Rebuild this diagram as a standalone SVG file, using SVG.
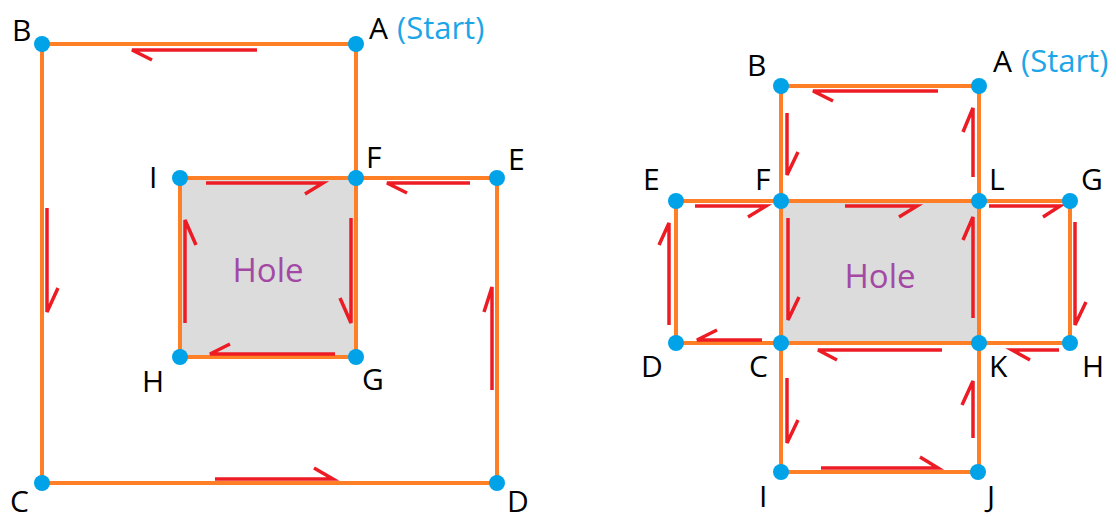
<svg xmlns="http://www.w3.org/2000/svg" width="1116" height="520" viewBox="0 0 1116 520">
  <style>
    .hole { fill: #dcdcdc; stroke: none; }
    .edge { stroke: #ff7f27; stroke-width: 4; fill: none; stroke-linecap: round; }
    .dir { stroke: #ed1c24; stroke-width: 3.5; fill: none; stroke-linejoin: miter; }
    .dot { fill: #00a2e8; }
    .lbl { font-family: "Open Sans", "Noto Sans", sans-serif; font-size: 30px; fill: #000; }
    .start { font-family: "Open Sans", "Noto Sans", sans-serif; font-size: 31px; fill: #1ba6e8; }
    .holetxt { font-family: "Open Sans", "Noto Sans", sans-serif; font-size: 33px; fill: #a349a4; text-anchor: middle; }
  </style>

  <!-- hole regions -->
  <g id="holes">
    <rect class="hole" x="180" y="178" width="176" height="179"/>
    <text class="holetxt" x="268" y="282">Hole</text>
    <rect class="hole" x="781" y="201" width="198" height="142"/>
    <text class="holetxt" x="880" y="288">Hole</text>
  </g>

  <g id="connectors">
    <!-- left figure: outer boundary and hole boundary -->
    <path class="edge" d="M356 44 H42 V483 H497 V178 H356 V44"/>
    <path class="edge" d="M356 178 V357 H180 V178 H356"/>
    <!-- right figure: cross-shaped boundary around the hole -->
    <path class="edge" d="M979 86 H781 V472 H979 V86"/>
    <path class="edge" d="M676 201 H1070 V343 H676 Z"/>

    <!-- traversal direction, left figure -->
    <path class="dir" d="M257 50 H132 L152 60"/>
    <path class="dir" d="M47 208 V312 L58 288"/>
    <path class="dir" d="M215 479 H333 L314 468"/>
    <path class="dir" d="M492 390 V287 L484 312"/>
    <path class="dir" d="M470 183 H387 L407 193"/>
    <path class="dir" d="M351 218 V323 L340 298"/>
    <path class="dir" d="M335 354 H210 L230 344"/>
    <path class="dir" d="M185 323 V220 L196 245"/>
    <path class="dir" d="M206 183 H323 L305 194"/>

    <!-- traversal direction, right figure -->
    <path class="dir" d="M938 91 H813 L833 101"/>
    <path class="dir" d="M787 113 V175 L798 152"/>
    <path class="dir" d="M695 206 H766 L748 217"/>
    <path class="dir" d="M845 206 H917 L899 217"/>
    <path class="dir" d="M989 206 H1060 L1043 217"/>
    <path class="dir" d="M973 177 V108 L963 132"/>
    <path class="dir" d="M669 325 V223 L659 245"/>
    <path class="dir" d="M762 340 H697 L717 330"/>
    <path class="dir" d="M788 218 V320 L799 297"/>
    <path class="dir" d="M973 318 V217 L963 240"/>
    <path class="dir" d="M1075 222 V325 L1086 302"/>
    <path class="dir" d="M942 350 H818 L837 360"/>
    <path class="dir" d="M1059 350 H1012 L1030 360"/>
    <path class="dir" d="M787 378 V443 L798 420"/>
    <path class="dir" d="M821 468 H938 L920 457"/>
    <path class="dir" d="M973 438 V381 L962 405"/>
  </g>

  <!-- left figure nodes -->
  <g id="L-A"><circle class="dot" cx="356" cy="44" r="8"/><text class="lbl" x="369" y="39">A</text><text class="start" x="397" y="39">(Start)</text></g>
  <g id="L-B"><circle class="dot" cx="42" cy="44" r="8"/><text class="lbl" x="12" y="41">B</text></g>
  <g id="L-C"><circle class="dot" cx="42" cy="483" r="8"/><text class="lbl" x="10" y="512">C</text></g>
  <g id="L-D"><circle class="dot" cx="497" cy="483" r="8"/><text class="lbl" x="507" y="512">D</text></g>
  <g id="L-E"><circle class="dot" cx="497" cy="178" r="8"/><text class="lbl" x="508" y="170">E</text></g>
  <g id="L-F"><circle class="dot" cx="356" cy="178" r="8"/><text class="lbl" x="366" y="168">F</text></g>
  <g id="L-G"><circle class="dot" cx="356" cy="357" r="8"/><text class="lbl" x="362" y="390">G</text></g>
  <g id="L-H"><circle class="dot" cx="180" cy="357" r="8"/><text class="lbl" x="142" y="392">H</text></g>
  <g id="L-I"><circle class="dot" cx="180" cy="178" r="8"/><text class="lbl" x="149" y="188">I</text></g>

  <!-- right figure nodes -->
  <g id="R-A"><circle class="dot" cx="979" cy="86" r="8"/><text class="lbl" x="993" y="72">A</text><text class="start" x="1021" y="72">(Start)</text></g>
  <g id="R-B"><circle class="dot" cx="781" cy="86" r="8"/><text class="lbl" x="747" y="76">B</text></g>
  <g id="R-E"><circle class="dot" cx="676" cy="201" r="8"/><text class="lbl" x="643" y="190">E</text></g>
  <g id="R-F"><circle class="dot" cx="781" cy="201" r="8"/><text class="lbl" x="755" y="190">F</text></g>
  <g id="R-L"><circle class="dot" cx="979" cy="201" r="8"/><text class="lbl" x="989" y="190">L</text></g>
  <g id="R-G"><circle class="dot" cx="1070" cy="201" r="8"/><text class="lbl" x="1081" y="190">G</text></g>
  <g id="R-D"><circle class="dot" cx="676" cy="343" r="8"/><text class="lbl" x="641" y="377">D</text></g>
  <g id="R-C"><circle class="dot" cx="781" cy="343" r="8"/><text class="lbl" x="749" y="377">C</text></g>
  <g id="R-K"><circle class="dot" cx="979" cy="343" r="8"/><text class="lbl" x="989" y="377">K</text></g>
  <g id="R-H"><circle class="dot" cx="1070" cy="343" r="8"/><text class="lbl" x="1082" y="377">H</text></g>
  <g id="R-I"><circle class="dot" cx="781" cy="472" r="8"/><text class="lbl" x="759" y="507">I</text></g>
  <g id="R-J"><circle class="dot" cx="978" cy="472" r="8"/><text class="lbl" x="987" y="507">J</text></g>
</svg>
